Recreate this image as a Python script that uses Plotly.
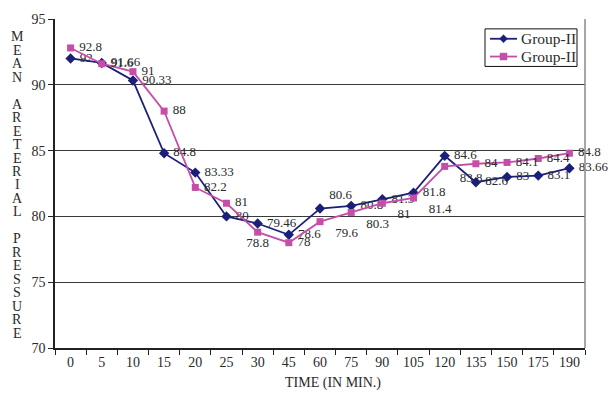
import plotly.graph_objects as go

categories = ["0", "5", "10", "15", "20", "25", "30", "45", "60", "75", "90",
              "105", "120", "135", "150", "175", "190"]
group_a = [92, 91.66, 90.33, 84.8, 83.33, 80, 79.46, 78.6, 80.6, 80.8, 81.3,
           81.8, 84.6, 82.6, 83, 83.1, 83.66]
group_b = [92.8, 91.6, 91, 88, 82.2, 81, 78.8, 78, 79.6, 80.3, 81, 81.4,
           83.8, 84, 84.1, 84.4, 84.8]
series_names = ["Group-II", "Group-II"]
y_title = "MEAN ARETERIAL PRESSURE"
x_title = "TIME (IN MIN.)"

FONT = "Liberation Serif, Times New Roman, serif"
TXT = "#2a2a2a"
NAVY = "#1b1f78"
PINK = "#c44ea8"
PAD = "\u00a0"

pos_a = ["middle right"] * len(categories)
pos_a[8] = "top right"
pos_b = ["middle right"] * len(categories)
pos_b[6] = "bottom center"
for i in (8, 9, 10, 11, 12):
    pos_b[i] = "bottom right"

def labels(vals, pos):
    out = []
    for v, p in zip(vals, pos):
        s = f"{v:g}"
        if p == "bottom right":
            s = PAD * 3 + s
        elif p.endswith("right"):
            s = PAD + s
        out.append(s)
    return out

fig = go.Figure()
fig.add_trace(go.Scatter(
    x=categories, y=group_a, name=series_names[0], mode="lines+markers+text",
    line=dict(color=NAVY, width=1.8),
    marker=dict(symbol="diamond", size=8, color=NAVY),
    text=labels(group_a, pos_a), textposition=pos_a, showlegend=False,
    textfont=dict(family=FONT, size=13, color=TXT), cliponaxis=False))
fig.add_trace(go.Scatter(
    x=categories, y=group_b, name=series_names[1], mode="lines+markers+text",
    line=dict(color=PINK, width=1.8),
    marker=dict(symbol="square", size=7, color=PINK),
    text=labels(group_b, pos_b), textposition=pos_b, showlegend=False,
    textfont=dict(family=FONT, size=13, color=TXT), cliponaxis=False))

L, R, T, B = 55, 23, 15, 46
W, H = 608, 394
pw, ph = W - L - R, H - T - B

def px_x(x):
    return (x - L) / pw

def px_y(y):
    return 1 - (y - T) / ph

annotations = []
shapes = []
# vertical stacked y-axis title
lines = []
for word_i, word in enumerate(y_title.split(" ")):
    if word_i > 0:
        lines.append(" ")
    lines.extend(list(word))
step = (333 - 33) / (len(lines) - 1)
for i, ch in enumerate(lines):
    if ch.strip():
        annotations.append(dict(
            text=ch, x=px_x(17), y=px_y(33 + i * step), xref="paper", yref="paper",
            showarrow=False, xanchor="center", yanchor="middle",
            font=dict(family=FONT, size=14, color=TXT)))
annotations.append(dict(
    text=x_title, x=px_x(333), y=px_y(383), xref="paper", yref="paper",
    showarrow=False, xanchor="center", yanchor="middle",
    font=dict(family=FONT, size=14, color=TXT)))
# right border line
shapes.append(dict(type="line", xref="paper", yref="paper", x0=1, x1=1, y0=0, y1=1,
                   line=dict(color="#8a8a8a", width=1.5)))

# manual legend (box, sample lines, markers, texts)
shapes.append(dict(type="rect", xref="paper", yref="paper",
                   x0=px_x(485), x1=px_x(577), y0=px_y(63), y1=px_y(25),
                   line=dict(color="#111", width=1), fillcolor="white"))
legend_rows = [(series_names[0], NAVY, "diamond", 35),
               (series_names[1], PINK, "square", 53)]
for name, col, sym, yy in legend_rows:
    shapes.append(dict(type="line", xref="paper", yref="paper",
                       x0=px_x(490), x1=px_x(517), y0=px_y(yy), y1=px_y(yy),
                       line=dict(color=col, width=1.8)))
    cx = 503.5
    if sym == "diamond":
        r = 4
        path = (f"M {px_x(cx - r)} {px_y(yy)} L {px_x(cx)} {px_y(yy - r)} "
                f"L {px_x(cx + r)} {px_y(yy)} L {px_x(cx)} {px_y(yy + r)} Z")
    else:
        r = 3.5
        path = (f"M {px_x(cx - r)} {px_y(yy - r)} L {px_x(cx + r)} {px_y(yy - r)} "
                f"L {px_x(cx + r)} {px_y(yy + r)} L {px_x(cx - r)} {px_y(yy + r)} Z")
    shapes.append(dict(type="path", xref="paper", yref="paper", path=path,
                       fillcolor=col, line=dict(color=col, width=0.5)))
    annotations.append(dict(text=name, x=px_x(519), y=px_y(yy), xref="paper",
                            yref="paper", showarrow=False, xanchor="left",
                            yanchor="middle",
                            font=dict(family=FONT, size=15.5, color=TXT)))

fig.update_layout(
    width=W, height=H, margin=dict(l=L, r=R, t=T, b=B),
    paper_bgcolor="white", plot_bgcolor="white",
    font=dict(family=FONT, size=14, color=TXT),
    showlegend=False,
    annotations=annotations, shapes=shapes,
)
fig.update_xaxes(type="category", showgrid=False, showline=True, linecolor="#222",
                 linewidth=1.5, ticks="outside", tickson="boundaries", ticklen=5,
                 tickcolor="#222", tickfont=dict(family=FONT, size=14, color=TXT),
                 range=[-0.5, len(categories) - 0.5])
fig.update_yaxes(range=[70, 95], dtick=5, showgrid=True, gridcolor="#3a3a3a",
                 gridwidth=1, showline=True, linecolor="#222", linewidth=1.5,
                 ticks="outside", ticklen=5, tickcolor="#222", zeroline=False,
                 tickfont=dict(family=FONT, size=14, color=TXT))

fig.write_html("out.html")
